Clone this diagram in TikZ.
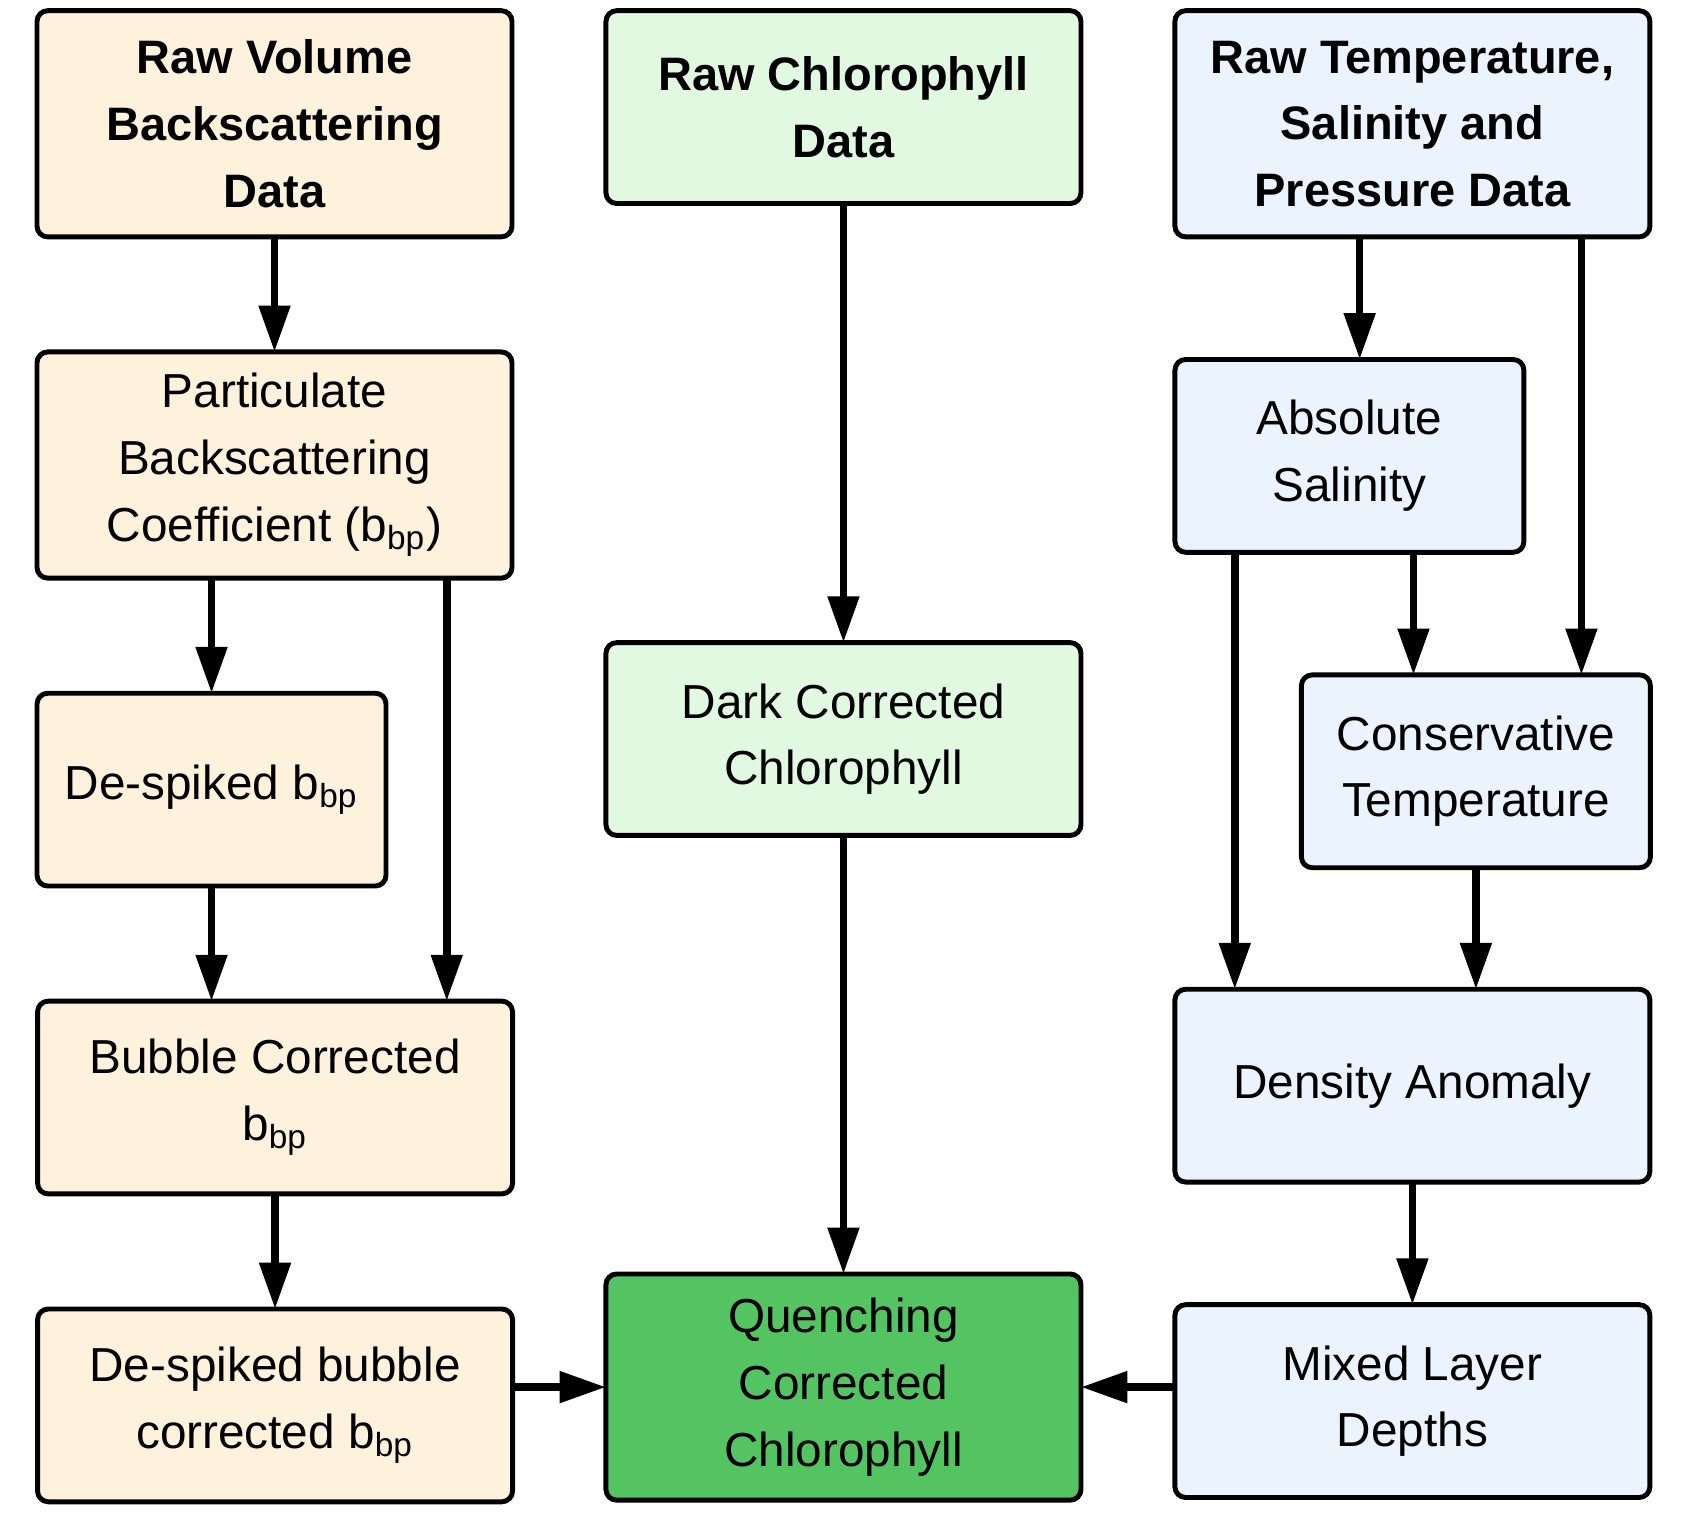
\documentclass[tikz,border=0pt]{standalone}
\usepackage{fontspec}
\setmainfont{Liberation Sans}
\usetikzlibrary{arrows.meta}

\definecolor{bscfill}{HTML}{FFF2DC}
\definecolor{chlfill}{HTML}{E1F8E1}
\definecolor{ctdfill}{HTML}{EAF3FE}
\definecolor{qccfill}{HTML}{54C462}

\begin{document}
\begin{tikzpicture}[x=0.01cm,y=-0.01cm,
	box/.style={draw,line width=1.3pt,rounded corners=0.1cm,align=center,inner sep=0pt,outer sep=0pt,
		font=\fontsize{12.6}{17.6}\selectfont},
	wide/.style={minimum width=4.41cm,minimum height=1.79cm},
	tall/.style={minimum width=4.41cm,minimum height=2.1cm},
	narrow/.style={minimum width=3.24cm,minimum height=1.79cm},
	flow/.style={line width=2pt,-{Triangle[length=0.43cm,width=0.28cm]}}]
	\useasboundingbox (0,0) rectangle (1568,1407);
	% backscattering column
	\node [box,tall,fill=bscfill,font=\fontsize{12.4}{17.6}\selectfont\bfseries] (rvb) at (255,115) {Raw Volume\\Backscattering\\Data};
	\node [box,tall,fill=bscfill] (pbc) at (255,432) {Particulate\\Backscattering\\Coefficient (b\textsubscript{bp})};
	\node [box,narrow,fill=bscfill] (dsp) at (196.5,733.5) {De-spiked b\textsubscript{bp}};
	\node [box,wide,fill=bscfill] (bcb) at (255.5,1019.5) {Bubble Corrected\\b\textsubscript{bp}};
	\node [box,wide,fill=bscfill] (dsb) at (255.5,1305.5) {De-spiked bubble\\corrected b\textsubscript{bp}};
	% chlorophyll column
	\node [box,wide,fill=chlfill,font=\fontsize{12.4}{17.6}\selectfont\bfseries] (rcd) at (783.5,99.5) {Raw Chlorophyll\\Data};
	\node [box,wide,fill=chlfill] (dcc) at (783.5,686.5) {Dark Corrected\\Chlorophyll};
	\node [box,tall,fill=qccfill] (qcc) at (783.5,1288.5) {Quenching\\Corrected\\Chlorophyll};
	% CTD column
	\node [box,tall,fill=ctdfill,font=\fontsize{12.4}{17.6}\selectfont\bfseries] (rts) at (1312,115) {Raw Temperature,\\Salinity and\\Pressure Data};
	\node [box,narrow,fill=ctdfill] (abs) at (1253.5,423.5) {Absolute\\Salinity};
	\node [box,narrow,fill=ctdfill] (ct) at (1371,716.5) {Conservative\\Temperature};
	\node [box,wide,fill=ctdfill] (da) at (1312,1008.5) {Density Anomaly};
	\node [box,wide,fill=ctdfill] (mld) at (1312,1301.5) {Mixed Layer\\Depths};

	\coordinate (k1) at (415,0);
	\coordinate (k2) at (1263,0);
	\coordinate (k3) at (1469,0);
	\coordinate (k4) at (1313,0);
	\coordinate (k5) at (1147,0);

	\draw[flow] (rvb) -- (pbc);
	\draw[flow] (pbc.south -| dsp.north) -- (dsp.north);
	\draw[flow] (pbc.south -| k1) -- (bcb.north -| k1);
	\draw[flow] (dsp.south) -- (dsp.south |- bcb.north);
	\draw[flow] (bcb) -- (dsb);
	\draw[flow] (dsb.east |- qcc) -- (qcc.west);
	\draw[flow] (rcd) -- (dcc);
	\draw[flow] (dcc) -- (qcc);
	\draw[flow] (rts.south -| k2) -- (abs.north -| k2);
	\draw[flow] (rts.south -| k3) -- (ct.north -| k3);
	\draw[flow] (abs.south -| k4) -- (ct.north -| k4);
	\draw[flow] (abs.south -| k5) -- (da.north -| k5);
	\draw[flow] (ct.south) -- (ct.south |- da.north);
	\draw[flow] (da) -- (mld);
	\draw[flow] (mld.west |- qcc) -- (qcc.east);
\end{tikzpicture}
\end{document}
